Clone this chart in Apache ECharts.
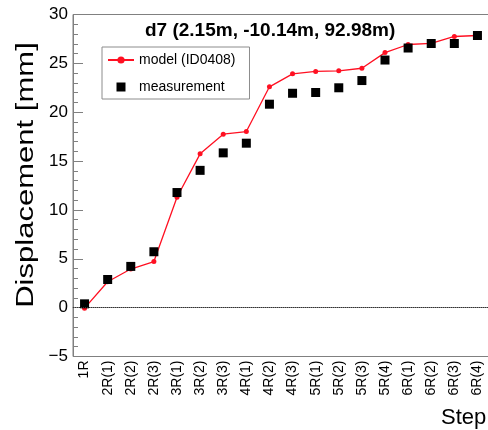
<!DOCTYPE html>
<html>
<head>
<meta charset="utf-8">
<script src="https://cdn.jsdelivr.net/npm/echarts@6/dist/echarts.min.js"></script>
<style>
  html, body { margin: 0; padding: 0; background: #fff; }
  #chart { width: 488px; height: 430px; }
</style>
</head>
<body>
<div id="chart"></div>
<script>
// Construction steps along the x axis
const steps = ['1R', '2R(1)', '2R(2)', '2R(3)', '3R(1)', '3R(2)', '3R(3)', '4R(1)', '4R(2)',
  '4R(3)', '5R(1)', '5R(2)', '5R(3)', '5R(4)', '6R(1)', '6R(2)', '6R(3)', '6R(4)'];

// Displacement at point d7 [mm]
const modelValues = [-0.05, 2.65, 3.95, 4.72, 11.3, 15.74, 17.75, 18.02, 22.6,
  23.93, 24.17, 24.24, 24.5, 26.1, 26.93, 27.05, 27.75, 27.85];
const measuredValues = [0.39, 2.88, 4.22, 5.72, 11.78, 14.05, 15.84, 16.83, 20.82,
  21.94, 22.02, 22.5, 23.24, 25.34, 26.57, 27.03, 27.03, 27.85];

const yTicks = [-5, 0, 5, 10, 15, 20, 25, 30];

const titleText = 'd7 (2.15m, -10.14m, 92.98m)';
const modelName = 'model (ID0408)';
const measuredName = 'measurement';
const xTitle = 'Step';
const yTitle = 'Displacement [mm]';

const FONT = 'Liberation Sans, Arial, Helvetica, sans-serif';
const frameColor = '#808080';

const chart = echarts.init(document.getElementById('chart'), null, { renderer: 'canvas' });

chart.setOption({
  animation: false,
  backgroundColor: '#ffffff',
  title: {
    text: titleText,
    left: 145,
    top: 21,
    padding: 0,
    textStyle: { fontFamily: FONT, fontSize: 19, fontWeight: 'bold', color: '#000' }
  },
  legend: {
    orient: 'vertical',
    left: 102,
    top: 47,
    padding: [6, 14, 5, 5],
    itemGap: 13,
    itemWidth: 26,
    itemHeight: 9,
    backgroundColor: '#ffffff',
    borderColor: '#8c8c8c',
    borderWidth: 1,
    borderRadius: 0,
    textStyle: { fontFamily: FONT, fontSize: 14, color: '#000' },
    data: [
      { name: modelName },
      { name: measuredName, icon: 'path://M0,0L1,0L1,1L0,1Z' }
    ]
  },
  grid: {
    left: 73,
    right: -1,
    top: 14.5,
    bottom: 73.5,
    outerBoundsMode: 'none',
    containLabel: false,
    show: true,
    borderColor: frameColor,
    borderWidth: 1,
    backgroundColor: 'transparent'
  },
  xAxis: {
    type: 'category',
    data: steps,
    boundaryGap: true,
    axisLine: { lineStyle: { color: frameColor, width: 1 } },
    axisTick: { inside: true, length: 10, lineStyle: { color: frameColor } },
    axisLabel: {
      rotate: 90, margin: 4, interval: 0,
      fontFamily: FONT, fontSize: 14, color: '#000'
    },
    splitLine: { show: false }
  },
  yAxis: {
    type: 'value',
    min: yTicks[0],
    max: yTicks[yTicks.length - 1],
    interval: 5,
    axisLine: { show: true, lineStyle: { color: frameColor, width: 1 } },
    axisTick: { show: true, inside: true, length: 10, lineStyle: { color: frameColor } },
    minorTick: { show: true, splitNumber: 5, length: 5, lineStyle: { color: frameColor } },
    axisLabel: {
      margin: 5,
      fontFamily: FONT, fontSize: 17, color: '#000',
      formatter: v => String(v).replace('-', '\u2212')
    },
    splitLine: { show: false }
  },
  graphic: [
    {
      // vertical axis title, stretched along its reading direction
      type: 'text',
      x: 27,
      y: 175,
      rotation: Math.PI / 2,
      scaleX: 1.35,
      silent: true,
      style: {
        text: yTitle,
        font: '23px ' + FONT,
        fill: '#000',
        align: 'center',
        verticalAlign: 'middle'
      }
    },
    {
      // horizontal axis title, flush with the right end of the axis
      type: 'text',
      x: 441,
      y: 407,
      silent: true,
      style: {
        text: xTitle,
        font: '22px ' + FONT,
        fill: '#000',
        align: 'left',
        verticalAlign: 'top'
      }
    }
  ],
  series: [
    {
      name: modelName,
      type: 'line',
      data: modelValues,
      symbol: 'circle',
      symbolSize: 5,
      showSymbol: true,
      lineStyle: { color: '#ff1022', width: 1.3 },
      itemStyle: { color: '#ff1022' },
      z: 2,
      markLine: {
        silent: true,
        symbol: 'none',
        label: { show: false },
        lineStyle: { color: '#333', width: 1, type: 'dotted' },
        data: [{ yAxis: 0 }]
      }
    },
    {
      name: measuredName,
      type: 'scatter',
      data: measuredValues,
      symbol: 'rect',
      symbolSize: 9,
      itemStyle: { color: '#000', opacity: 1 },
      z: 3
    }
  ]
});
</script>
</body>
</html>
